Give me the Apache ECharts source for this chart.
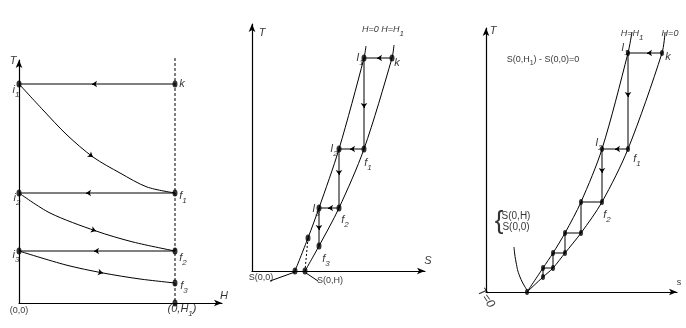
<!DOCTYPE html>
<html><head><meta charset="utf-8">
<script src="https://cdn.jsdelivr.net/npm/echarts@6/dist/echarts.min.js"></script>
<style>html,body{margin:0;padding:0;background:#fff}#c{width:686px;height:328px}</style>
</head><body><div id="c"></div>
<script>
// ---------- Panel 1 : T versus H ----------
const p1Horizontal = [[[156,219],[0,219]], [[156,110],[0,110]], [[156,52],[0,52]]];
const p1Curve1 = [[0,219],[24,193],[48,168],[74,146],[101,130],[128,116],[156,110]];
const p1Curve2 = [[0,110],[31,90],[77,72],[114,61],[156,52]];
const p1Curve3 = [[0,52],[47,38],[84,30],[121,24],[156,20]];
const p1Dashed = [[156,245],[156,0]];
const p1Dots = [[0,219],[156,219],[156,110],[0,110],[156,52],[0,52],[156,20],[156,0]];
const p1ArrowsLeft = [[73,219],[67,110],[75,52]];
const p1CurveArrowIdx = [3,2,2];
const p1Labels = [
  ['{i|T}', -6, 242],
  ['{i|i}{s|1}', -3, 213],
  ['{i|i}{s|2}', -2, 105],
  ['{i|i}{s|3}', -3, 48],
  ['{i|k}', 163, 219],
  ['{i|f}{s|1}', 164, 107],
  ['{i|f}{s|2}', 164, 45],
  ['{i|f}{s|3}', 165, 17],
  ['{i|H}', 205, 7],
  ['{n|(0,0)}', 0, -8],
  ['{i|(0,H}{s|1}{i|)}', 163, -6]
];

// ---------- Panel 2 : T versus S ----------
const p2CurveH0 = [[43,0],[56,33],[67,63],[87,122],[112,213],[114,225]];
const p2CurveH1 = [[53,0],[67,25],[87,63],[112,122],[140,213],[142,226]];
const p2Stairs = [[140,213],[112,213],[112,122],[87,122],[87,63],[67,63],[67,25]];
const p2Extra = [[43,0],[53,0],[56,33]];
const p2Dashed = [[56,33],[53,0]];
const p2Leaders = [[[18,-10],[43,-1]], [[54,-2],[66,-10]]];
const p2ArrowsLeft = [[125,213],[98,122],[76,63]];
const p2ArrowsDown = [[112,163],[87,96],[67,41]];
const p2Labels = [
  ['{i|T}', 10, 238],
  ['{i|S}', 176, 10],
  ['{h|H=0 H=H}{s|1}', 131, 242],
  ['{i|I}{s|1}', 108, 213],
  ['{i|k}', 145, 208],
  ['{i|I}{s|2}', 82, 122],
  ['{i|f}{s|1}', 116, 108],
  ['{i|I}{s|3}', 64, 62],
  ['{i|f}{s|2}', 93, 51],
  ['{i|f}{s|3}', 74, 12],
  ['{n|S(0,0)}', 9, -7],
  ['{n|S(0,H)}', 78, -10]
];

// ---------- Panel 3 : T versus s ----------
const p3CurveH1 = [[41,0],[57,24],[67,39],[79,59],[95,90],[116,143],[142,239],[146,260]];
const p3CurveH0 = [[41,0],[57,15],[67,24],[79,39],[95,59],[116,90],[142,143],[176,239],[179,259]];
const p3Stairs = [[176,239],[142,239],[142,143],[116,143],[116,90],[95,90],[95,59],[79,59],[79,39],[67,39],[67,24],[57,24],[57,15]];
const p3Origin = [[41,0]];
const p3Leader = [[28,45],[30,30],[34,15],[41,2]];
const p3ArrowsLeft = [[161,239],[129,143]];
const p3ArrowsDown = [[142,195],[116,119]];
const p3Labels = [
  ['{i|T}', 7, 261],
  ['{n|s}', 193, 9],
  ['{n|S(0,H}{ns|1}{n|) - S(0,0)=0}', 57, 232],
  ['{h|H=H}{s|1}', 146, 259],
  ['{h|H=0}', 184, 259],
  ['{i|I}{s|1}', 139, 244],
  ['{i|k}', 182, 235],
  ['{i|I}{s|2}', 113, 149],
  ['{i|f}{s|1}', 151, 133],
  ['{i|f}{s|2}', 121, 77],
  ['{b|{}', 13, 70],
  ['{m|S(0,H)}\n{m|S(0,0)}', 30, 70],
  ['{t|T=0}', 0, -6, -55]
];

// ---------- rendering ----------
const FONT = '"Liberation Sans",Arial,sans-serif';
const grids = [
  {left:19, top:60, width:203, height:243},
  {left:252, top:24, width:173, height:247},
  {left:486, top:28, width:191, height:264}
];
const RICH = {
  i: {fontStyle:'italic', fontSize:11, fontFamily:FONT, color:'#000'},
  h: {fontStyle:'italic', fontSize:9, fontFamily:FONT, color:'#000'},
  t: {fontStyle:'italic', fontSize:12, fontFamily:FONT, color:'#000'},
  n: {fontSize:9, fontFamily:FONT, color:'#000'},
  m: {fontSize:10, fontFamily:FONT, color:'#000', lineHeight:11},
  s: {fontStyle:'italic', fontSize:8, fontFamily:FONT, color:'#000', padding:[9,0,0,0]},
  ns: {fontSize:7, fontFamily:FONT, color:'#000', padding:[6,0,0,0]},
  b: {fontSize:26, fontFamily:FONT, color:'#000'}
};
function axisCommon(g, max) {
  return {type:'value', gridIndex:g, min:0, max:max,
    axisLine:{show:true, onZero:false, symbol:['none','arrow'], symbolSize:[5,8], lineStyle:{color:'#000', width:1.2}},
    axisTick:{show:false}, axisLabel:{show:false}, splitLine:{show:false}};
}
function line(g, data, extra) {
  return Object.assign({type:'line', xAxisIndex:g, yAxisIndex:g, data:data, symbol:'none',
    lineStyle:{color:'#000', width:1}, clip:false, silent:true, z:3}, extra || {});
}
function curve(g, data) { return line(g, data, {smooth:0.3}); }
function dots(g, data, size) {
  return {type:'scatter', xAxisIndex:g, yAxisIndex:g, data:data, symbol:'circle',
    symbolSize:size || [5,7], itemStyle:{color:'#000'}, clip:false, silent:true, z:5};
}
function arrowSeries(g, segs) {
  return {type:'lines', coordinateSystem:'cartesian2d', xAxisIndex:g, yAxisIndex:g,
    symbol:['none','arrow'], symbolSize:5, lineStyle:{color:'#000', width:1, opacity:1},
    data:segs.map(s => ({coords:s})), silent:true, z:4, clip:false};
}
function leftSegs(pts) { return pts.map(p => [[p[0]+2, p[1]], [p[0], p[1]]]); }
function downSegs(pts) { return pts.map(p => [[p[0], p[1]+2], [p[0], p[1]]]); }
function curveSeg(c, i) {
  const dx = c[i+1][0]-c[i-1][0], dy = c[i+1][1]-c[i-1][1];
  const L = Math.hypot(dx, dy);
  return [[c[i][0]-2*dx/L, c[i][1]-2*dy/L], c[i]];
}
function texts(g, items) {
  return {type:'scatter', xAxisIndex:g, yAxisIndex:g, symbolSize:0, silent:true, z:6, clip:false,
    data:items.map(it => ({value:[it[1], it[2]], t:it[0], label:{rotate:it[3] || 0}})),
    label:{show:true, position:'inside', formatter:p => p.data.t, rich:RICH, fontFamily:FONT, color:'#000'}};
}

const series = [];
// panel 1
p1Horizontal.forEach(s => series.push(line(0, s)));
series.push(curve(0, p1Curve1), curve(0, p1Curve2), curve(0, p1Curve3));
series.push(line(0, p1Dashed, {lineStyle:{color:'#000', width:1, type:[3,2]}}));
series.push(dots(0, p1Dots));
series.push(arrowSeries(0, leftSegs(p1ArrowsLeft).concat(
  [curveSeg(p1Curve1, p1CurveArrowIdx[0]), curveSeg(p1Curve2, p1CurveArrowIdx[1]), curveSeg(p1Curve3, p1CurveArrowIdx[2])])));
series.push(texts(0, p1Labels));
// panel 2
series.push(curve(1, p2CurveH0), curve(1, p2CurveH1));
series.push(line(1, p2Stairs));
series.push(line(1, p2Dashed, {lineStyle:{color:'#000', width:1, type:[2,2]}}));
p2Leaders.forEach(s => series.push(line(1, s)));
series.push(dots(1, p2Stairs.concat(p2Extra)));
series.push(arrowSeries(1, leftSegs(p2ArrowsLeft).concat(downSegs(p2ArrowsDown))));
series.push(texts(1, p2Labels));
// panel 3
series.push(curve(2, p3CurveH1), curve(2, p3CurveH0));
series.push(line(2, p3Stairs));
series.push(line(2, p3Leader, {smooth:0.5}));
series.push(dots(2, p3Stairs.concat(p3Origin), [4,6]));
series.push(arrowSeries(2, leftSegs(p3ArrowsLeft).concat(downSegs(p3ArrowsDown))));
series.push(texts(2, p3Labels));

const chart = echarts.init(document.getElementById('c'), null, {renderer:'canvas'});
chart.setOption({
  animation:false,
  backgroundColor:'#fff',
  grid:grids,
  xAxis:grids.map((g, i) => axisCommon(i, g.width)),
  yAxis:grids.map((g, i) => axisCommon(i, g.height)),
  series:series
});
</script>
</body></html>
